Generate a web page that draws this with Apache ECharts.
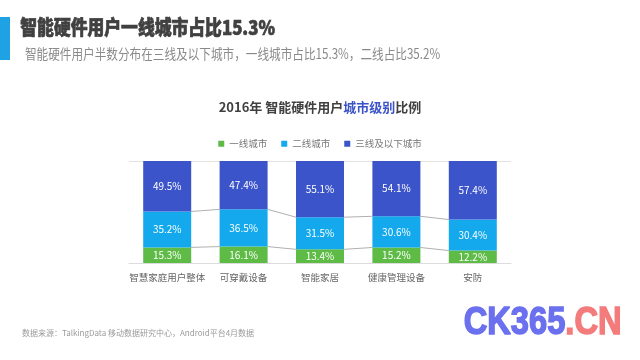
<!DOCTYPE html>
<html>
<head>
<meta charset="utf-8">
<script src="https://cdn.jsdelivr.net/npm/echarts@6/dist/echarts.min.js"></script>
<style>html,body{margin:0;padding:0;background:#fff;}#c{width:640px;height:360px;}</style>
</head>
<body>
<div id="c"></div>
<script>
var categories = ['智慧家庭用户整体', '可穿戴设备', '智能家居', '健康管理设备', '安防'];
var seriesNames = ['一线城市', '二线城市', '三线及以下城市'];
var tier1 = [15.3, 16.1, 13.4, 15.2, 12.2];
var tier2 = [35.2, 36.5, 31.5, 30.6, 30.4];
var tier3 = [49.5, 47.4, 55.1, 54.1, 57.4];
var colors = ['#5dbb46', '#13a9ec', '#3b54c9'];
var FONT = '"Noto Sans CJK SC", "Noto Sans", sans-serif';
var BAR_W = 48;

var chart = echarts.init(document.getElementById('c'), null, {renderer: 'canvas'});

var connData = [];
for (var i = 0; i < categories.length - 1; i++) {
  connData.push([i, tier1[i], tier1[i] + tier2[i], tier1[i + 1], tier1[i + 1] + tier2[i + 1]]);
}

function barSeries(name, data, color) {
  return {
    name: name, type: 'bar', stack: 'all', barWidth: BAR_W, data: data,
    itemStyle: {color: color},
    label: {show: true, position: 'inside', color: '#fff', fontSize: 10, fontFamily: FONT,
      formatter: function (p) { return p.value.toFixed(1) + '%'; }}
  };
}

chart.setOption({
  animation: false,
  color: colors,
  title: {
    text: '{a|2016年 智能硬件用户}{b|城市级别}{a|比例}',
    left: 'center', top: 96,
    textStyle: {rich: {
      a: {fontSize: 13, fontWeight: 'bold', color: '#404040', fontFamily: FONT},
      b: {fontSize: 13, fontWeight: 'bold', color: '#3b54c9', fontFamily: FONT}
    }}
  },
  legend: {
    data: seriesNames, top: 134, left: 'center', icon: 'rect', itemWidth: 6, itemHeight: 6, itemGap: 14,
    textStyle: {fontSize: 9.5, color: '#777', fontFamily: FONT}
  },
  grid: {left: 129, right: 129, top: 161, bottom: 97},
  xAxis: {
    type: 'category', data: categories,
    axisLine: {show: true, lineStyle: {color: '#dcdcdc'}},
    axisTick: {show: false},
    axisLabel: {color: '#666', fontSize: 9.5, fontFamily: FONT, margin: 10, interval: 0}
  },
  yAxis: {
    type: 'value', min: 0, max: 100, interval: 100,
    axisLabel: {show: false}, axisLine: {show: false}, axisTick: {show: false},
    splitLine: {show: true, lineStyle: {color: '#e4e4e4'}}
  },
  series: [
    barSeries(seriesNames[0], tier1, colors[0]),
    barSeries(seriesNames[1], tier2, colors[1]),
    barSeries(seriesNames[2], tier3, colors[2]),
    {
      type: 'custom', name: 'conn', data: connData, silent: true, z: 1,
      encode: {x: 0, y: 1},
      renderItem: function (params, api) {
        var idx = api.value(0);
        var a1 = api.coord([idx, api.value(1)]);
        var a2 = api.coord([idx, api.value(2)]);
        var b1 = api.coord([idx + 1, api.value(3)]);
        var b2 = api.coord([idx + 1, api.value(4)]);
        var h = BAR_W / 2;
        var st = {stroke: '#b0b0b0', lineWidth: 1, fill: null};
        return {type: 'group', children: [
          {type: 'line', shape: {x1: a1[0] + h, y1: a1[1], x2: b1[0] - h, y2: b1[1]}, style: st},
          {type: 'line', shape: {x1: a2[0] + h, y1: a2[1], x2: b2[0] - h, y2: b2[1]}, style: st}
        ]};
      }
    }
  ],
  graphic: [
    {type: 'rect', left: 0, top: 17, shape: {width: 10, height: 43}, style: {fill: '#1ea2e4'}},
    {type: 'text', left: 20, top: 17, scaleX: 0.84,
      style: {text: '智能硬件用户一线城市占比15.3%', font: '900 20px ' + FONT, fill: '#404040', stroke: '#404040', lineWidth: 0.7}},
    {type: 'text', left: 25, top: 47, scaleX: 0.83,
      style: {text: '智能硬件用户半数分布在三线及以下城市，一线城市占比15.3%，二线占比35.2%', font: '14px ' + FONT, fill: '#8a8a8a'}},
    {type: 'text', left: 22, top: 329,
      style: {text: '数据来源：TalkingData 移动数据研究中心，Android平台4月数据', font: '8px ' + FONT, fill: '#9a9a9a'}},
    {type: 'text', left: 463, top: 304, scaleX: 0.86,
      style: {text: '{a|CK365}{b|.CN}', rich: {
        a: {font: 'bold 38px "Liberation Sans", sans-serif', fill: '#6b70ef', stroke: '#6b70ef', lineWidth: 1.5},
        b: {font: 'bold 38px "Liberation Sans", sans-serif', fill: '#f37b7b', stroke: '#f37b7b', lineWidth: 1.5}
      }}}
  ]
});
</script>
</body>
</html>
